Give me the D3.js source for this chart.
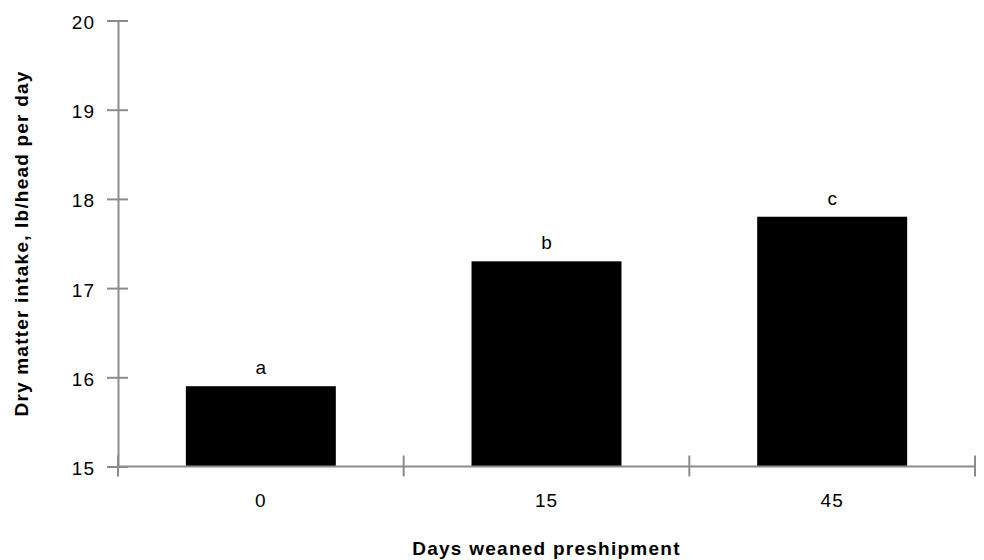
<!DOCTYPE html>
<html>
<head>
<meta charset="utf-8">
<script src="https://cdn.jsdelivr.net/npm/d3@7"></script>
<style>
  html, body { margin: 0; padding: 0; background: #fff; }
  svg { display: block; font-family: "Liberation Sans", Arial, Helvetica, sans-serif; }
</style>
</head>
<body>
<svg id="chart" width="984" height="560"></svg>
<script>
const categories = ["0", "15", "45"];
const values = [15.9, 17.3, 17.8];
const letters = ["a", "b", "c"];
const yTicks = [15, 16, 17, 18, 19, 20];
const xTitle = "Days weaned preshipment";
const yTitle = "Dry matter intake, lb/head per day";

const svg = d3.select("#chart");
const margin = { left: 118, right: 9, top: 20.5, bottom: 93.5 };
const W = 984, H = 560;
const axisColor = "#8c8c8c";
const fs = 19;

const x = d3.scaleBand().domain(categories).range([margin.left, W - margin.right]).paddingInner(0.475).paddingOuter(0.2375);
const xb = d3.scaleBand().domain(categories).range([margin.left, W - margin.right]);
const y = d3.scaleLinear().domain([15, 20]).range([H - margin.bottom, margin.top]);

// bars
svg.selectAll("rect.bar").data(values).enter().append("rect")
  .attr("class", "bar")
  .attr("x", (d, i) => x(categories[i]))
  .attr("width", x.bandwidth())
  .attr("y", d => y(d))
  .attr("height", d => y(15) - y(d))
  .attr("fill", "#000");

// letters
svg.selectAll("text.lbl").data(values).enter().append("text")
  .attr("class", "lbl")
  .attr("x", (d, i) => x(categories[i]) + x.bandwidth() / 2)
  .attr("y", d => y(d) - 12)
  .attr("text-anchor", "middle")
  .attr("font-size", fs)
  .attr("fill", "#000")
  .text((d, i) => letters[i]);

// y axis
const yAxis = svg.append("g").attr("transform", `translate(${margin.left},0)`)
  .call(d3.axisLeft(y).tickValues(yTicks).tickFormat(d3.format("d")).tickSize(11).tickPadding(12));
yAxis.select(".domain").attr("stroke", axisColor).attr("stroke-width", 2);
yAxis.selectAll(".tick line").attr("stroke", axisColor).attr("stroke-width", 2).attr("x2", 10).attr("x1", -11);
yAxis.selectAll(".tick text").attr("font-size", fs).attr("fill", "#000")
  .attr("font-family", "Liberation Sans, Arial, sans-serif").attr("letter-spacing", 1).attr("dy", "0.42em");

// x axis
const xAxisG = svg.append("g").attr("transform", `translate(0,${y(15)})`);
xAxisG.append("line").attr("x1", margin.left).attr("x2", W - margin.right).attr("stroke", axisColor).attr("stroke-width", 2);
const bounds = categories.map(c => xb(c)).concat([xb(categories[categories.length - 1]) + xb.bandwidth()]);
xAxisG.selectAll("line.tk").data(bounds).enter().append("line")
  .attr("class", "tk")
  .attr("x1", d => d).attr("x2", d => d).attr("y1", -11).attr("y2", 10)
  .attr("stroke", axisColor).attr("stroke-width", 2);
xAxisG.selectAll("text.xl").data(categories).enter().append("text")
  .attr("class", "xl")
  .attr("x", d => xb(d) + xb.bandwidth() / 2)
  .attr("y", 40.5)
  .attr("text-anchor", "middle")
  .attr("font-size", fs).attr("letter-spacing", 1)
  .text(d => d);

// titles
svg.append("text")
  .attr("x", (margin.left + W - margin.right) / 2)
  .attr("y", 555)
  .attr("text-anchor", "middle")
  .attr("font-size", fs).attr("font-weight", "bold").attr("letter-spacing", 1.25)
  .text(xTitle);
svg.append("text")
  .attr("transform", `translate(28,${(y(15) + y(20)) / 2}) rotate(-90)`)
  .attr("text-anchor", "middle")
  .attr("font-size", fs).attr("font-weight", "bold").attr("letter-spacing", 1.2)
  .text(yTitle);
</script>
</body>
</html>
